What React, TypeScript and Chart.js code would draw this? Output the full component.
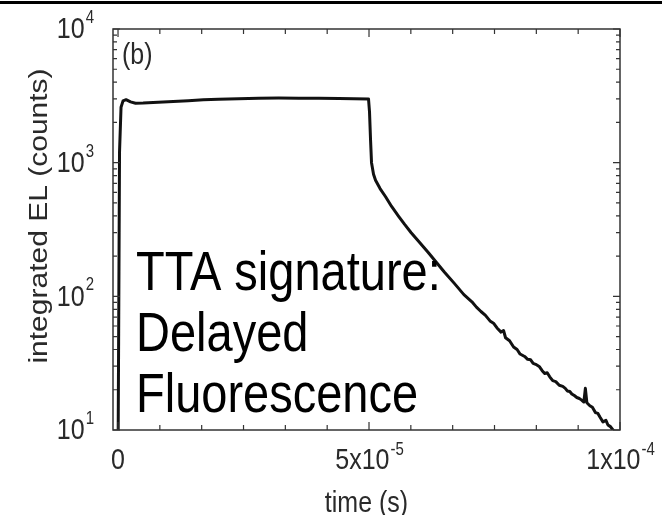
import React, { useEffect, useRef } from "react";
import { Chart, registerables } from "chart.js";

Chart.register(...registerables);

// time (s)
const times = [
  0.0e-6, 0.3e-6, 0.6e-6, 1.0e-6, 1.6e-6, 2.5e-6, 3.5e-6, 5e-6, 8e-6, 11e-6,
  14e-6, 17e-6, 20e-6, 24e-6, 28e-6, 32e-6, 36e-6, 40e-6, 44e-6, 47e-6,
  49.9e-6, 50.1e-6, 50.3e-6, 50.5e-6, 50.9e-6, 51.3e-6, 52.2e-6, 53.3e-6, 54.5e-6, 55.9e-6,
  57.1e-6, 58.4e-6, 60e-6, 61.8e-6, 63.4e-6, 65.0e-6, 67e-6, 68.9e-6, 70.5e-6, 71.4e-6,
  72.3e-6, 73.2e-6, 74.1e-6, 74.8e-6, 75.5e-6, 76.3e-6, 76.8e-6, 77.2e-6, 78.0e-6, 78.8e-6,
  79.5e-6, 80.1e-6, 81e-6, 81.6e-6, 82.2e-6, 82.7e-6, 83.2e-6, 83.9e-6, 84.5e-6, 85e-6,
  85.5e-6, 86e-6, 86.6e-6, 87.2e-6, 87.9e-6, 88.6e-6, 89.1e-6, 89.5e-6, 90.0e-6, 90.4e-6,
  90.9e-6, 91.4e-6, 91.9e-6, 92.3e-6, 92.8e-6, 93.1e-6, 93.4e-6, 94e-6, 94.5e-6, 95.1e-6,
  95.6e-6, 96e-6, 96.6e-6, 97.2e-6, 97.6e-6, 98.1e-6, 98.6e-6, 99.4e-6, 100e-6,
];

// integrated EL (counts)
const counts = [
  5, 1200, 2600, 2900, 2960, 2850, 2780, 2790, 2830, 2870,
  2910, 2950, 2980, 3010, 3030, 3040, 3030, 3030, 3020, 3010,
  3000, 2400, 1500, 1000, 820, 738, 640, 556, 470, 397,
  345, 299, 255, 213, 180, 152, 125, 103, 91, 83,
  77, 72, 65.5, 63, 58, 54, 55.5, 49, 46.5, 41.8,
  40, 37, 35.5, 33.8, 33.5, 31.5, 31, 29.9, 27.8, 26.5,
  26.8, 25, 23.4, 23, 21.6, 21.2, 20.5, 19.6, 19.4, 18.6,
  18.1, 17.5, 17.2, 16.8, 16.2, 20.5, 16, 15.2, 14.8, 13.5,
  13.3, 12.5, 11.5, 11.8, 10.9, 10.6, 10, 9.3, 8.8,
];

const xMin = -1e-6;
const xMax = 1e-4;
const yMin = 10;
const yMax = 10000;

// x tick marks (every 1/12 of 1e-4)
const xTickValues = [
  0, 8.333e-6, 1.6667e-5, 2.5e-5, 3.3333e-5, 4.1667e-5, 5e-5,
  5.8333e-5, 6.6667e-5, 7.5e-5, 8.3333e-5, 9.1667e-5, 1e-4,
];
const xMajorTicks = [0, 5e-5, 1e-4];
// x tick labels: value, base, exponent
const xLabelValues = [0, 5e-5, 1e-4];
const xLabelBases = ["0", "5x10", "1x10"];
const xLabelExps = ["", "-5", "-4"];

// y decades and labels
const yDecades = [10, 100, 1000, 10000];
const yLabelExps = ["1", "2", "3", "4"];
const yMinorMultipliers = [2, 3, 4, 5, 6, 7, 8, 9];

const xTitle = "time (s)";
const yTitle = "integrated EL (counts)";
const panelLabel = "(b)";
const noteLines = ["TTA signature:", "Delayed", "Fluorescence"];

const FONT = '"Liberation Sans", Arial, Helvetica, sans-serif';
const SY = 1.2;

function drawText(
  ctx: CanvasRenderingContext2D,
  s: string,
  x: number,
  y: number,
  size: number,
  align: CanvasTextAlign,
  baseline: CanvasTextBaseline,
  color: string,
  rotate = 0
) {
  ctx.save();
  ctx.translate(x, y);
  ctx.scale(1, SY);
  if (rotate) ctx.rotate(rotate);
  ctx.font = `${size}px ${FONT}`;
  ctx.textAlign = align;
  ctx.textBaseline = baseline;
  ctx.fillStyle = color;
  ctx.fillText(s, 0, 0);
  ctx.restore();
}

function measure(ctx: CanvasRenderingContext2D, s: string, size: number) {
  ctx.save();
  ctx.font = `${size}px ${FONT}`;
  const w = ctx.measureText(s).width;
  ctx.restore();
  return w;
}

const decorPlugin = {
  id: "decor",
  afterDraw(chart: any) {
    const ctx: CanvasRenderingContext2D = chart.ctx;
    const { left, right, top, bottom } = chart.chartArea;
    const xs = chart.scales.x;
    const ys = chart.scales.y;
    const labelColor = "#2a2a2a";

    // top black bar
    ctx.save();
    ctx.fillStyle = "#000";
    ctx.fillRect(0, 1, chart.width, 3);
    ctx.restore();

    // frame
    ctx.save();
    ctx.strokeStyle = "#333";
    ctx.lineWidth = 1.5;
    ctx.strokeRect(left, top, right - left, bottom - top);

    // x ticks (inward, bottom and top)
    ctx.lineWidth = 1.2;
    ctx.beginPath();
    xTickValues.forEach((v) => {
      const px = xs.getPixelForValue(v);
      const len = xMajorTicks.some((m) => Math.abs(m - v) < 1e-9) ? 8 : 5;
      ctx.moveTo(px, bottom);
      ctx.lineTo(px, bottom - len);
      ctx.moveTo(px, top);
      ctx.lineTo(px, top + len);
    });
    // y ticks
    yDecades.forEach((d, i) => {
      const py = ys.getPixelForValue(d);
      ctx.moveTo(left, py);
      ctx.lineTo(left + 7, py);
      ctx.moveTo(right, py);
      ctx.lineTo(right - 7, py);
      if (i < yDecades.length - 1) {
        yMinorMultipliers.forEach((m) => {
          const pm = ys.getPixelForValue(d * m);
          ctx.moveTo(left, pm);
          ctx.lineTo(left + 4, pm);
          ctx.moveTo(right, pm);
          ctx.lineTo(right - 4, pm);
        });
      }
    });
    ctx.stroke();
    ctx.restore();

    // y tick labels
    yDecades.forEach((d, i) => {
      const py = ys.getPixelForValue(d);
      const supW = measure(ctx, yLabelExps[i], 15);
      const rightEdge = 94;
      drawText(ctx, "10", rightEdge - supW - 1, py + 1, 25, "right", "middle", labelColor);
      drawText(ctx, yLabelExps[i], rightEdge, py - 11, 15, "right", "middle", labelColor);
    });

    // x tick labels
    xLabelValues.forEach((v, i) => {
      const px = xs.getPixelForValue(v);
      const base = xLabelBases[i];
      const exp = xLabelExps[i];
      const bw = measure(ctx, base, 25);
      const ew = exp ? measure(ctx, exp, 15) : 0;
      const start = px - (bw + ew) / 2;
      drawText(ctx, base, start, 461, 25, "left", "middle", labelColor);
      if (exp) drawText(ctx, exp, start + bw + 1, 450, 15, "left", "middle", labelColor);
    });

    // axis titles
    drawText(ctx, xTitle, (left + right) / 2, 512, 25, "center", "alphabetic", labelColor);
    drawText(ctx, yTitle, 40, 216, 25, "center", "middle", labelColor, -Math.PI / 2);

    // panel label
    drawText(ctx, panelLabel, 122, 56, 25, "left", "middle", labelColor);

    // annotation
    const baselines = [290, 351, 412];
    noteLines.forEach((s, i) => {
      drawText(ctx, s, 136, baselines[i], 47, "left", "alphabetic", "#000");
    });
  },
};

export default function App() {
  const ref = useRef<HTMLCanvasElement>(null);
  useEffect(() => {
    document.body.style.margin = "0";
    const canvas = ref.current;
    if (!canvas) return;
    const data = times.map((t, i) => ({ x: t, y: counts[i] }));
    const chart = new Chart(canvas, {
      type: "line",
      data: {
        datasets: [
          {
            data,
            borderColor: "#111",
            borderWidth: 3,
            pointRadius: 0,
            tension: 0,
            fill: false,
            borderJoinStyle: "round",
          } as any,
        ],
      },
      options: {
        responsive: false,
        animation: false,
        devicePixelRatio: 1,
        layout: { padding: { left: 105, right: 42, top: 29, bottom: 77 } },
        plugins: { legend: { display: false }, tooltip: { enabled: false } },
        scales: {
          x: {
            type: "linear",
            min: xMin,
            max: xMax,
            grid: { display: false },
            border: { display: false },
            ticks: { display: false },
          },
          y: {
            type: "logarithmic",
            min: yMin,
            max: yMax,
            grid: { display: false },
            border: { display: false },
            ticks: { display: false },
          },
        },
      },
      plugins: [decorPlugin],
    });
    return () => chart.destroy();
  }, []);
  return (
    <div style={{ width: 662, height: 515, position: "relative", background: "#fff" }}>
      <canvas ref={ref} width={662} height={515} style={{ display: "block" }} />
    </div>
  );
}
